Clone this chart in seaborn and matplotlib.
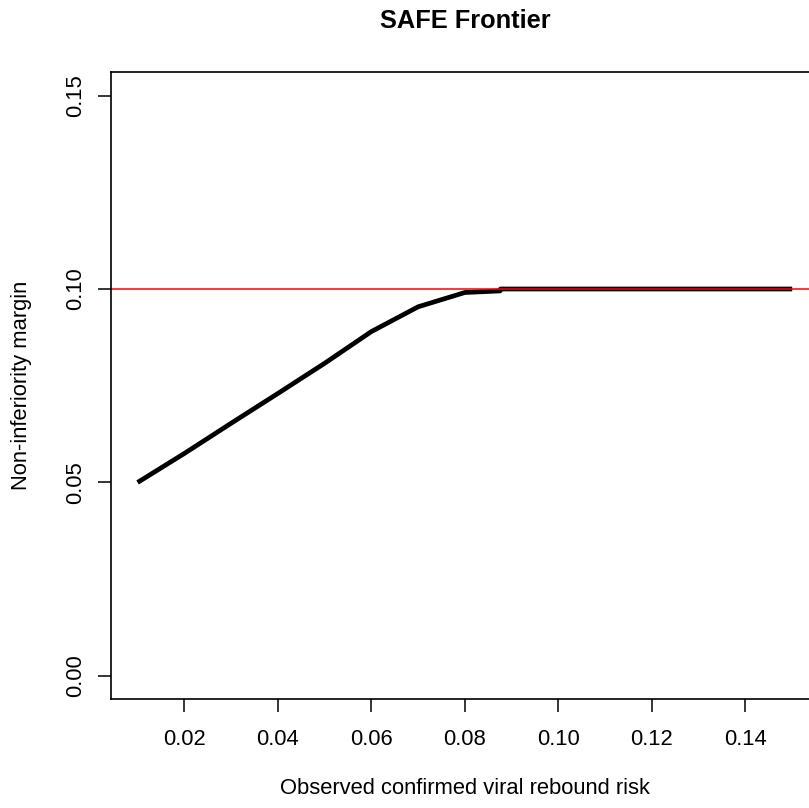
import numpy as np
import pandas as pd
import seaborn as sns
import matplotlib.pyplot as plt

sns.set_style("white")
plt.rcParams['font.family'] = ['Liberation Sans', 'DejaVu Sans']

# frontier
risk = [0.01, 0.02, 0.03, 0.04, 0.05, 0.06, 0.07, 0.08, 0.0875, 0.0876, 0.15]
margin = [0.050, 0.0575, 0.0653, 0.0730, 0.0808, 0.0890, 0.0954, 0.0991, 0.0995, 0.100, 0.100]
ref_margin = 0.10
xticks = [0.02, 0.04, 0.06, 0.08, 0.10, 0.12, 0.14]
yticks = [0.00, 0.05, 0.10, 0.15]

df = pd.DataFrame({'risk': risk, 'margin': margin})

fig = plt.figure(figsize=(8.09, 8.08), dpi=100)
ax = fig.add_axes([0.1377, 0.1347, 0.8739, 0.7758])

sns.lineplot(data=df, x='risk', y='margin', color='black', lw=3.4, ax=ax,
             solid_capstyle='butt')
ax.axhline(ref_margin, color='red', lw=1.1)

ax.set_xlim(0.0044, 0.1556)
ax.set_ylim(-0.006, 0.156)
ax.set_xticks(xticks)
ax.set_xticklabels(['%.2f' % t for t in xticks])
ax.set_yticks(yticks)
ax.set_yticklabels(['%.2f' % t for t in yticks])

for s in ax.spines.values():
    s.set_color('black')
    s.set_linewidth(1.2)

ax.tick_params(axis='both', direction='out', length=9.4, width=1.1,
               color='black', labelsize=15.8, labelcolor='black',
               bottom=True, left=True)
ax.tick_params(axis='x', pad=12.3)
ax.tick_params(axis='y', pad=8.6, labelrotation=90)
for lbl in ax.get_yticklabels():
    lbl.set_va('center')

ax.set_xlabel('Observed confirmed viral rebound risk', fontsize=15.8,
              va='center', color='black')
ax.xaxis.set_label_coords(0.5, -0.1433)
ax.set_ylabel('Non-inferiority margin', fontsize=15.8, va='center', color='black')
ax.yaxis.set_label_coords(-0.1273, 0.5)
ax.set_title('SAFE Frontier', fontsize=18.3, fontweight='bold', y=1.0818,
             va='center', pad=0, color='black')

fig.savefig('out.png', dpi=100)
